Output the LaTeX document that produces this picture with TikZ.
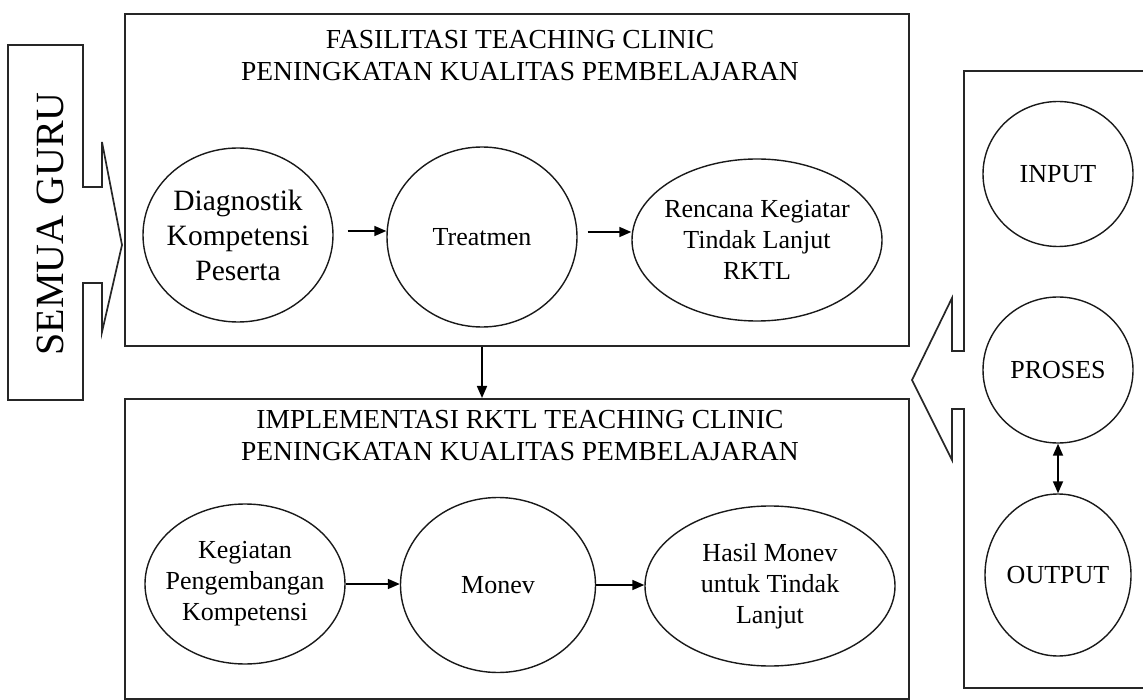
\documentclass[tikz,border=0pt]{standalone}
\usepackage{fontspec}
\setmainfont{Liberation Serif}
\usetikzlibrary{shapes.geometric,arrows.meta}
\begin{document}
\begin{tikzpicture}[x=1pt,y=-1pt,
  ln/.style={draw=black!85, line width=1.7pt, line join=miter},
  boxnode/.style={draw=black!85, line width=1.7pt, inner sep=0pt, anchor=north west},
  oval/.style={ellipse, draw=black!90, line width=1.4pt, align=center, inner sep=-15pt, font=\fontsize{26}{31}\selectfont},
  ttl/.style={align=center, inner sep=0pt, font=\fontsize{27.5}{32}\selectfont},
  arr/.style={line width=1.7pt, draw=black, -{Triangle[length=12pt,width=10pt]}},
  darr/.style={line width=1.7pt, draw=black, {Triangle[length=12pt,width=10pt]}-{Triangle[length=12pt,width=10pt]}},
]
\useasboundingbox (0,0) rectangle (1143,700);

% left "SEMUA GURU" arrow shape
\draw[ln] (8,45) -- (83,45) -- (83,187) -- (102,187) -- (102,142) -- (122,245)
  -- (102,332) -- (102,283) -- (83,283) -- (83,400) -- (8,400) -- cycle;
\node[rotate=90, inner sep=0pt, font=\fontsize{40}{48}\selectfont] (guru) at (50,224) {SEMUA GURU};

% right panel with arrow
\draw[ln] (1150,71) -- (964,71) -- (964,351) -- (952,351) -- (952,298) -- (912,380)
  -- (952,460) -- (952,409) -- (964,409) -- (964,688) -- (1150,688);

% boxes
\node[boxnode, minimum width=784pt, minimum height=332pt] (topbox) at (124,13) {};
\node[boxnode, minimum width=784pt, minimum height=300pt] (botbox) at (124,398) {};

% titles
\node[ttl] (t1) at (520,56) {FASILITASI TEACHING CLINIC\\PENINGKATAN KUALITAS PEMBELAJARAN};
\node[ttl] (t2) at (520,436) {IMPLEMENTASI RKTL TEACHING CLINIC\\PENINGKATAN KUALITAS PEMBELAJARAN};

% top row
\node[oval, font=\fontsize{29.5}{35}\selectfont, minimum width=190pt, minimum height=174pt] (e1) at (238,235) {Diagnostik\\Kompetensi\\Peserta};
\node[oval, minimum width=190pt, minimum height=180pt] (e2) at (482,237) {Treatmen};
\node[oval, minimum width=250pt, minimum height=162pt] (e3) at (757,240) {Rencana Kegiatar\\Tindak Lanjut\\RKTL};
\coordinate (a1) at ([xshift=14pt,yshift=4pt]e1.east);
\coordinate (a2) at ([xshift=10pt,yshift=5pt]e2.east);
\draw[arr] (a1) -- (a1 -| e2.west);
\draw[arr] (a2) -- (a2 -| e3.west);

% bottom row
\node[oval, minimum width=200pt, minimum height=160pt] (e4) at (245,584) {Kegiatan\\Pengembangan\\Kompetensi};
\node[oval, minimum width=195pt, minimum height=175pt] (e5) at (498,585) {Monev};
\node[oval, minimum width=250pt, minimum height=160pt] (e6) at (770,586) {Hasil Monev\\untuk Tindak\\Lanjut};
\draw[arr] (e4.east) -- (e4.east -| e5.west);
\draw[arr] (e5.east) -- (e5.east -| e6.west);

% between boxes
\draw[arr] (topbox.south -| e2.center) -- (botbox.north -| e2.center);

% right column
\node[oval, minimum width=150pt, minimum height=145pt] (in) at (1058,174) {INPUT};
\node[oval, minimum width=150pt, minimum height=146pt] (pr) at (1058,370) {PROSES};
\node[oval, minimum width=146pt, minimum height=162pt] (out) at (1058,575) {OUTPUT};
\draw[darr] (pr.south) -- (out.north);
\end{tikzpicture}
\end{document}
